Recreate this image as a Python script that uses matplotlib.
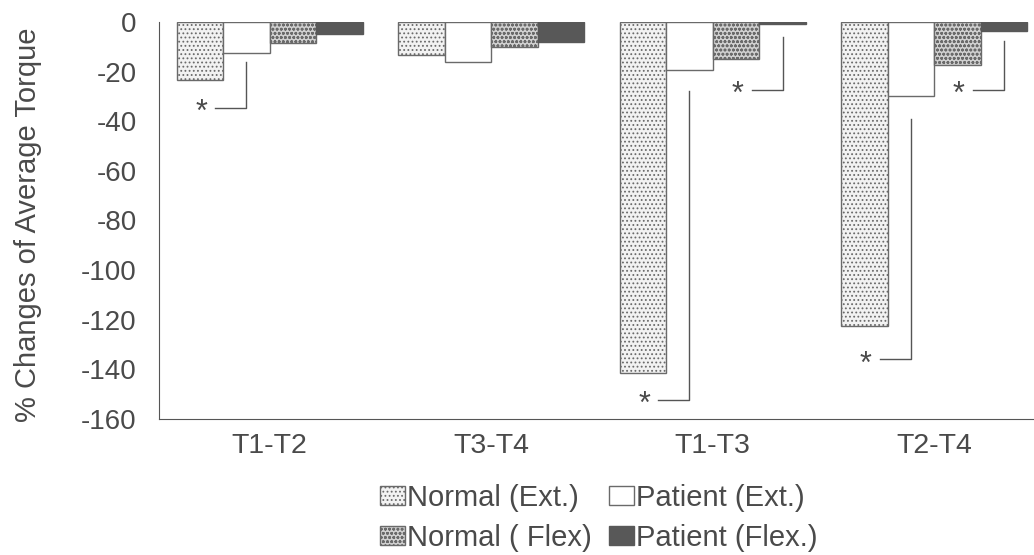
import matplotlib
matplotlib.use("Agg")
import matplotlib.pyplot as plt
import numpy as np

plt.rcParams['font.family'] = ['Liberation Sans', 'DejaVu Sans']
plt.rcParams['hatch.linewidth'] = 0.8
plt.rcParams['axes.unicode_minus'] = False

# % change of average torque per comparison
groups = ["T1-T2", "T3-T4", "T1-T3", "T2-T4"]
series = ["Normal (Ext.)", "Patient (Ext.)", "Normal ( Flex)", "Patient (Flex.)"]
normal_ext = [-23.5, -13.5, -141.5, -122.5]
patient_ext = [-12.5, -16.0, -19.5, -30.0]
normal_flex = [-8.5, -10.0, -15.0, -17.5]
patient_flex = [-5.0, -8.0, -1.0, -3.5]

# significance brackets: (group, series index, top, bottom)
sig_marks = [
    (0, 1, -16, -34.5),
    (2, 1, -28, -152.5),
    (2, 3, -6, -27.5),
    (3, 1, -39, -136),
    (3, 3, -7.5, -27.5),
]

text_color = "#4a4a4a"
edge = "#6a6a6a"
styles = [
    dict(facecolor="#f2f2f2", hatch="....", edgecolor=edge),
    dict(facecolor="white", hatch=None, edgecolor=edge),
    dict(facecolor="#d0d0d0", hatch="oooo", edgecolor=edge),
    dict(facecolor="#585858", hatch=None, edgecolor="#585858"),
]

fig = plt.figure(figsize=(10.34, 5.55), dpi=100)
ax = fig.add_axes([159 / 1034, 1 - 419 / 555, 886 / 1034, 397 / 555])

x = np.arange(len(groups))
width = 0.21
offsets = (np.arange(4) - 1.5) * width
values = [normal_ext, patient_ext, normal_flex, patient_flex]

bars = []
for i, (vals, st) in enumerate(zip(values, styles)):
    bars.append(ax.bar(x + offsets[i], vals, width, label=series[i], linewidth=1.0, **st))

for g, s, top, bottom in sig_marks:
    xv = x[g] + offsets[s]
    ax.plot([xv, xv, xv - 0.14], [top, bottom, bottom], color="#555555", lw=1.0)
    ax.text(xv - 0.205, bottom - 2, "*", ha="center", va="center",
            fontsize=22, color=text_color)

ax.set_xlim(-0.5, 3.5)
ax.set_ylim(-160, 0)
ax.set_yticks(np.arange(-160, 1, 20))
ax.set_xticks(x)
ax.set_xticklabels(groups)
ax.tick_params(axis="both", length=0, colors=text_color)
ax.tick_params(axis="y", labelsize=20, pad=16)
ax.tick_params(axis="x", labelsize=20.5, pad=10)
ax.set_ylabel("% Changes of Average Torque", fontsize=21, color=text_color)
ax.yaxis.set_label_coords(-117 / 886, 0.49)

for side in ["top", "right"]:
    ax.spines[side].set_visible(False)
ax.spines["left"].set_color("#555555")
ax.spines["bottom"].set_color("#555555")

# column-wise fill: Normal/Patient (Ext.) on the first row, (Flex) on the second
order = [0, 2, 1, 3]
fig.legend([bars[i] for i in order], [series[i] for i in order],
           loc="center", bbox_to_anchor=(599 / 1034, 1 - 518 / 555), ncol=2,
           frameon=False, fontsize=21, handlelength=0.85, handleheight=0.62,
           handletextpad=0.07, columnspacing=0.6, labelspacing=0.4,
           borderpad=0.1, labelcolor=text_color)

fig.savefig("out.png", dpi=100)
